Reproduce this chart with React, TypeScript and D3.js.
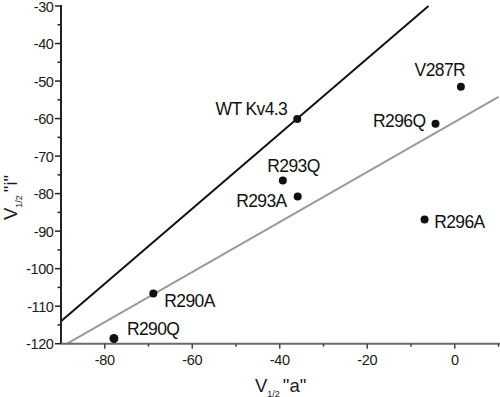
import React from "react";
import * as d3 from "d3";

const mutants = ["WT Kv4.3", "V287R", "R296Q", "R293Q", "R293A", "R296A", "R290A", "R290Q"];
const vHalfA = [-36, 1.4, -4.4, -39.3, -35.9, -6.9, -68.9, -77.9];
const vHalfI = [-60.1, -51.5, -61.4, -76.5, -80.8, -86.9, -106.6, -118.6];

// fitted lines: [slope, intercept, xStart, xEnd]
const blackFit = [1.0, -24, -90, -6];
const grayFit = [0.667, -60.9, -88.6, 10];

const xTicks = [-80, -60, -40, -20, 0];
const xMinor = [-70, -50, -30, -10, 10];
const yTicks = [-30, -40, -50, -60, -70, -80, -90, -100, -110, -120];
const yMinor = [-35, -45, -55, -65, -75, -85, -95, -105, -115];

// label placement relative to point (px)
const labelPlace: [number, number, string][] = [
  [-10, -3.5, "end"],
  [-21, -10.5, "middle"],
  [-10, 2.7, "end"],
  [-15.5, -8.6, "start"],
  [-11, 10, "end"],
  [9.6, 8, "start"],
  [11, 14, "start"],
  [13, -3, "start"],
];

const FONT = "'Liberation Sans', Arial, Helvetica, sans-serif";

export default function App() {
  const W = 500, H = 397;
  const x = d3.scaleLinear().domain([-90, 10]).range([61, 498.5]);
  const y = d3.scaleLinear().domain([-120, -30]).range([343.7, 6]);

  const fitPath = (f: number[]) => {
    const pts: [number, number][] = [f[2], f[3]].map((xv) => [x(xv), y(f[0] * xv + f[1])]);
    return d3.line()(pts) as string;
  };

  const x0 = x(-90), y0 = y(-120);

  return (
    <svg width={W} height={H} style={{ position: "absolute", left: 0, top: 0, background: "#fff" }} fontFamily={FONT}>
      <rect width={W} height={H} fill="#fff" />
      {/* fit lines */}
      <path d={fitPath(grayFit)} stroke="#9a9a9a" strokeWidth={2} fill="none" />
      <path d={fitPath(blackFit)} stroke="#111" strokeWidth={2} fill="none" />

      {/* y axis */}
      <line x1={x0} x2={x0} y1={y(-30) - 1} y2={y0} stroke="#222" strokeWidth={2} />
      {yTicks.map((t) => (
        <g key={"yt" + t}>
          <line x1={x0 - 6} x2={x0} y1={y(t)} y2={y(t)} stroke="#222" strokeWidth={1.5} />
          <text x={53.5} y={y(t) + 0.6} textAnchor="end" dominantBaseline="central" fontSize={14.5} fill="#1a1a1a" letterSpacing={-0.4}>
            {t}
          </text>
        </g>
      ))}
      {yMinor.map((t) => (
        <line key={"ym" + t} x1={x0 - 3.5} x2={x0} y1={y(t)} y2={y(t)} stroke="#222" strokeWidth={1.5} />
      ))}

      {/* x axis */}
      <line x1={x0} x2={W} y1={y0} y2={y0} stroke="#6a6a6a" strokeWidth={2} />
      {xTicks.map((t) => (
        <g key={"xt" + t}>
          <line x1={x(t)} x2={x(t)} y1={y0} y2={y0 + 5} stroke="#444" strokeWidth={1.5} />
          <text x={x(t)} y={365} textAnchor="middle" fontSize={14.5} fill="#1a1a1a" letterSpacing={-0.4}>
            {t}
          </text>
        </g>
      ))}
      {xMinor.map((t) => (
        <line key={"xm" + t} x1={x(t)} x2={x(t)} y1={y0} y2={y0 + 3} stroke="#444" strokeWidth={1.5} />
      ))}

      {/* axis titles */}
      <text x={255} y={391.5} fontSize={18.5} fill="#1a1a1a">
        V<tspan fontSize={9} dy={5}>1/2</tspan>
        <tspan dy={-5} dx={3}>"a"</tspan>
      </text>
      <text transform="translate(16.5,220) rotate(-90)" fontSize={18.5} fill="#1a1a1a">
        V<tspan fontSize={9} dy={5}>1/2</tspan>
        <tspan dy={-5} dx={3}>"i"</tspan>
      </text>

      {/* points */}
      {mutants.map((m, i) => {
        const px = x(vHalfA[i]), py = y(vHalfI[i]);
        const [dx, dy, anchor] = labelPlace[i];
        return (
          <g key={m}>
            <circle cx={px} cy={py} r={i === 7 ? 4.5 : 4} fill="#111" />
            <text x={px + dx} y={py + dy} textAnchor={anchor as any} fontSize={17.5} fill="#111" letterSpacing={-0.6}>
              {m}
            </text>
          </g>
        );
      })}
    </svg>
  );
}
